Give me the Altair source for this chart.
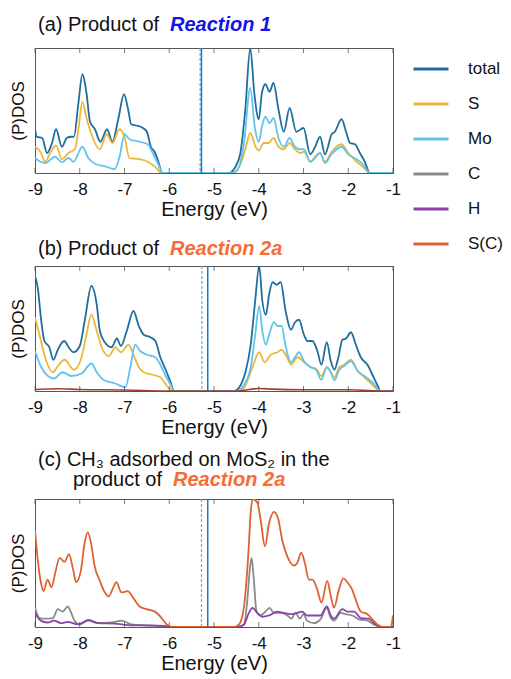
import altair as alt
import pandas as pd

FONT = "Liberation Sans"
ENERGY_TICKS = [-9, -8, -7, -6, -5, -4, -3, -2, -1]
SERIES = ["total", "S", "Mo", "C", "H", "S(C)"]
COLORS = ["#1f6e9e", "#ecb83c", "#62c4ec", "#8a8a8a", "#8b45a8", "#dd6230"]
NEAR_ZERO_COLOR = "#a3402c"

# ---------- panel (a): product of Reaction 1 ----------
A_TOTAL_E = [-9.00, -8.96, -8.84, -8.73, -8.62, -8.53, -8.40, -8.29, -8.20, -8.13, -8.03, -7.94, -7.85, -7.77, -7.66,
             -7.54, -7.39, -7.27, -7.14, -7.01, -6.92, -6.85, -6.74, -6.59, -6.50, -6.41, -6.33, -6.26, -6.15,
             -4.67, -4.52, -4.41, -4.30, -4.19, -4.10, -4.00, -3.93, -3.85, -3.76, -3.67, -3.56, -3.44, -3.31, -3.16,
             -3.00, -2.85, -2.74, -2.63, -2.52, -2.37, -2.30, -2.15, -2.04, -1.96, -1.85, -1.74, -1.63, -1.52, -1.00]
A_TOTAL_V = [0.36, 0.29, 0.28, 0.16, 0.24, 0.35, 0.21, 0.28, 0.29, 0.29, 0.56, 0.79, 0.64, 0.41, 0.35,
             0.25, 0.35, 0.25, 0.43, 0.63, 0.51, 0.39, 0.38, 0.36, 0.33, 0.21, 0.17, 0.11, 0.00,
             0.00, 0.05, 0.16, 0.51, 1.00, 0.64, 0.43, 0.64, 0.71, 0.65, 0.72, 0.51, 0.33, 0.52, 0.33,
             0.36, 0.15, 0.21, 0.29, 0.15, 0.31, 0.33, 0.43, 0.32, 0.24, 0.23, 0.16, 0.09, 0.00, 0.00]
A_S_E = [-9.00, -8.88, -8.77, -8.66, -8.53, -8.40, -8.25, -8.11, -8.03, -7.94, -7.85, -7.74, -7.55, -7.40, -7.27,
         -7.11, -7.00, -6.89, -6.66, -6.48, -6.29, -6.18,
         -4.56, -4.41, -4.30, -4.19, -4.07, -4.00, -3.89, -3.78, -3.67, -3.56, -3.44, -3.31, -3.19, -3.07, -2.99,
         -2.85, -2.74, -2.63, -2.52, -2.37, -2.15, -2.00, -1.81, -1.67, -1.52, -1.00]
A_S_V = [0.21, 0.17, 0.09, 0.16, 0.22, 0.11, 0.16, 0.19, 0.35, 0.57, 0.44, 0.31, 0.19, 0.31, 0.24,
         0.35, 0.29, 0.12, 0.11, 0.09, 0.04, 0.00,
         0.00, 0.07, 0.19, 0.32, 0.21, 0.18, 0.24, 0.24, 0.28, 0.21, 0.19, 0.24, 0.19, 0.16, 0.17,
         0.09, 0.13, 0.16, 0.09, 0.17, 0.23, 0.16, 0.09, 0.05, 0.00, 0.00]
A_MO_E = [-9.00, -8.88, -8.77, -8.55, -8.40, -8.25, -8.14, -7.94, -7.81, -7.63, -7.40, -7.22, -7.11, -7.00, -6.89,
          -6.66, -6.48, -6.37, -6.26, -6.15,
          -4.59, -4.44, -4.33, -4.19, -4.09, -4.00, -3.93, -3.85, -3.76, -3.67, -3.56, -3.44, -3.31, -3.19, -3.07,
          -2.99, -2.85, -2.74, -2.63, -2.52, -2.37, -2.15, -2.00, -1.81, -1.67, -1.52, -1.00]
A_MO_V = [0.12, 0.09, 0.08, 0.13, 0.085, 0.12, 0.09, 0.21, 0.12, 0.07, 0.05, 0.03, 0.13, 0.31, 0.27,
          0.25, 0.23, 0.16, 0.08, 0.00,
          0.00, 0.05, 0.24, 0.68, 0.37, 0.25, 0.37, 0.45, 0.40, 0.44, 0.28, 0.21, 0.28, 0.21, 0.19,
          0.19, 0.09, 0.12, 0.16, 0.08, 0.15, 0.21, 0.15, 0.11, 0.07, 0.00, 0.00]

# ---------- panel (b): product of Reaction 2a ----------
B_TOTAL_E = [-9.00, -8.94, -8.86, -8.79, -8.68, -8.59, -8.49, -8.35, -8.23, -8.14, -8.00, -7.89, -7.74, -7.62, -7.55,
             -7.44, -7.29, -7.17, -7.08, -6.95, -6.80, -6.68, -6.57, -6.42, -6.31, -6.20, -6.08, -5.98, -5.89,
             -4.55, -4.40, -4.29, -4.18, -4.08, -3.99, -3.92, -3.84, -3.77, -3.69, -3.60, -3.51, -3.40, -3.28, -3.19,
             -3.10, -2.99, -2.91, -2.80, -2.69, -2.60, -2.48, -2.39, -2.31, -2.22, -2.13, -2.05, -1.94, -1.83, -1.72,
             -1.57, -1.46, -1.34, -1.28, -1.00]
B_TOTAL_V = [0.92, 0.83, 0.56, 0.40, 0.35, 0.25, 0.33, 0.40, 0.34, 0.31, 0.36, 0.56, 0.84, 0.69, 0.48,
             0.39, 0.35, 0.42, 0.36, 0.48, 0.64, 0.52, 0.45, 0.43, 0.40, 0.27, 0.17, 0.08, 0.00,
             0.00, 0.05, 0.16, 0.37, 0.72, 1.00, 0.72, 0.61, 0.77, 0.87, 0.85, 0.87, 0.64, 0.49, 0.55,
             0.57, 0.45, 0.40, 0.40, 0.32, 0.21, 0.39, 0.24, 0.17, 0.27, 0.41, 0.42, 0.47, 0.37, 0.27,
             0.21, 0.13, 0.04, 0.00, 0.00]
B_S_E = [-9.00, -8.90, -8.75, -8.60, -8.49, -8.34, -8.13, -7.96, -7.85, -7.74, -7.62, -7.51, -7.35, -7.20, -7.08,
         -6.91, -6.80, -6.68, -6.57, -6.38, -6.20, -6.05, -5.92,
         -4.44, -4.29, -4.14, -3.99, -3.87, -3.73, -3.58, -3.49, -3.37, -3.28, -3.13, -2.99, -2.84, -2.72, -2.60,
         -2.48, -2.39, -2.31, -2.20, -2.09, -1.94, -1.79, -1.64, -1.46, -1.31, -1.00]
B_S_V = [0.59, 0.45, 0.24, 0.15, 0.20, 0.25, 0.17, 0.27, 0.45, 0.61, 0.48, 0.35, 0.28, 0.35, 0.31,
         0.37, 0.29, 0.19, 0.15, 0.13, 0.11, 0.04, 0.00,
         0.00, 0.05, 0.19, 0.31, 0.23, 0.29, 0.31, 0.33, 0.27, 0.21, 0.27, 0.23, 0.19, 0.18, 0.12,
         0.19, 0.15, 0.11, 0.19, 0.21, 0.25, 0.16, 0.11, 0.05, 0.00, 0.00]
B_MO_E = [-9.00, -8.86, -8.71, -8.58, -8.38, -8.19, -7.96, -7.74, -7.62, -7.47, -7.21, -6.98, -6.87, -6.76, -6.65,
          -6.50, -6.31, -6.20, -6.08, -5.97, -5.89,
          -4.48, -4.33, -4.18, -4.08, -3.99, -3.92, -3.84, -3.77, -3.66, -3.58, -3.49, -3.40, -3.28, -3.19, -3.10,
          -2.99, -2.84, -2.72, -2.60, -2.48, -2.39, -2.31, -2.20, -2.09, -1.94, -1.79, -1.64, -1.46, -1.28, -1.00]
B_MO_V = [0.32, 0.19, 0.12, 0.10, 0.15, 0.12, 0.14, 0.22, 0.15, 0.09, 0.06, 0.03, 0.19, 0.37, 0.32,
          0.29, 0.27, 0.21, 0.12, 0.05, 0.00,
          0.00, 0.05, 0.19, 0.45, 0.68, 0.48, 0.37, 0.45, 0.55, 0.52, 0.52, 0.36, 0.23, 0.27, 0.31,
          0.24, 0.19, 0.17, 0.09, 0.19, 0.15, 0.085, 0.17, 0.20, 0.24, 0.16, 0.12, 0.07, 0.00, 0.00]
B_SC_E = [-9.00, -8.50, -8.00, -7.00, -6.00, -4.50, -4.00, -3.70, -3.00, -2.00, -1.30, -1.00]
B_SC_V = [0.012, 0.018, 0.012, 0.008, 0.0, 0.0, 0.02, 0.015, 0.01, 0.01, 0.0, 0.0]

# ---------- panel (c): CH3 adsorbed on MoS2 ----------
C_SC_E = [-9.00, -8.94, -8.87, -8.81, -8.72, -8.63, -8.55, -8.45, -8.34, -8.24, -8.15, -8.08, -7.97, -7.89, -7.82,
          -7.74, -7.67, -7.55, -7.44, -7.35, -7.25, -7.18, -7.07, -6.93, -6.81, -6.66, -6.51, -6.32, -6.17, -6.06,
          -5.94,
          -4.55, -4.44, -4.33, -4.24, -4.18, -4.14, -4.03, -3.96, -3.86, -3.77, -3.66, -3.57, -3.47, -3.36, -3.21,
          -3.14, -3.05, -2.97, -2.88, -2.80, -2.69, -2.60, -2.47, -2.39, -2.32, -2.21, -2.11, -2.02, -1.91, -1.84,
          -1.72, -1.57, -1.46, -1.35, -1.24, -1.05, -1.00]
C_SC_V = [0.76, 0.53, 0.35, 0.28, 0.37, 0.31, 0.42, 0.54, 0.51, 0.57, 0.45, 0.35, 0.45, 0.66, 0.74,
          0.64, 0.48, 0.36, 0.27, 0.24, 0.31, 0.35, 0.27, 0.28, 0.23, 0.16, 0.14, 0.12, 0.07, 0.02,
          0.00,
          0.00, 0.02, 0.16, 0.53, 0.89, 1.00, 0.97, 0.84, 0.63, 0.81, 0.90, 0.85, 0.67, 0.55, 0.48,
          0.50, 0.58, 0.50, 0.37, 0.37, 0.29, 0.19, 0.36, 0.24, 0.15, 0.29, 0.38, 0.35, 0.29, 0.22,
          0.12, 0.10, 0.06, 0.02, 0.00, 0.00, 0.09]
C_C_E = [-9.00, -8.90, -8.75, -8.60, -8.49, -8.38, -8.27, -8.19, -8.12, -8.00, -7.82, -7.59, -7.29, -7.07, -6.84,
         -6.54, -6.24, -5.94,
         -4.48, -4.33, -4.26, -4.20, -4.16, -4.11, -4.05, -3.97, -3.85, -3.76, -3.66, -3.51, -3.36, -3.27, -3.18,
         -3.08, -3.00, -2.92, -2.77, -2.62, -2.48, -2.39, -2.32, -2.17, -2.06, -1.91, -1.76, -1.57, -1.43, -1.28,
         -1.00]
C_C_V = [0.15, 0.07, 0.065, 0.07, 0.14, 0.12, 0.16, 0.11, 0.05, 0.02, 0.05, 0.03, 0.035, 0.05, 0.02,
         0.013, 0.008, 0.00,
         0.00, 0.02, 0.19, 0.45, 0.54, 0.37, 0.12, 0.09, 0.12, 0.15, 0.11, 0.11, 0.09, 0.065, 0.11,
         0.065, 0.10, 0.05, 0.03, 0.06, 0.15, 0.07, 0.05, 0.11, 0.10, 0.09, 0.06, 0.05, 0.02, 0.00,
         0.00]
C_H_E = [-9.00, -8.87, -8.72, -8.57, -8.42, -8.27, -8.04, -7.80, -7.59, -7.22, -6.84, -6.47, -6.09, -5.94,
         -4.48, -4.33, -4.22, -4.14, -4.03, -3.92, -3.77, -3.59, -3.44, -3.29, -3.14, -3.03, -2.92, -2.73, -2.62,
         -2.48, -2.39, -2.32, -2.13, -2.02, -1.87, -1.72, -1.54, -1.39, -1.24, -1.00]
C_H_V = [0.11, 0.05, 0.035, 0.05, 0.03, 0.04, 0.02, 0.055, 0.03, 0.026, 0.013, 0.013, 0.008, 0.00,
         0.00, 0.02, 0.11, 0.15, 0.11, 0.08, 0.09, 0.12, 0.11, 0.10, 0.11, 0.12, 0.09, 0.09, 0.09,
         0.16, 0.09, 0.065, 0.14, 0.12, 0.12, 0.07, 0.065, 0.02, 0.00, 0.00]

# Fermi levels (dashed / solid) for panels a, b, c
FERMI_DASHED = [-5.31, -5.27, -5.28]
FERMI_SOLID = [-5.28, -5.14, -5.14]

PLOT_W = 358


def frame(pairs):
    rows = []
    for name, es, vs in pairs:
        for i, (e, v) in enumerate(zip(es, vs)):
            rows.append({"E": e, "v": v, "series": name, "i": i})
    return pd.DataFrame(rows)


def title_layer(parts):
    layers = []
    for text, x, y, size, color, bold in parts:
        layers.append(
            alt.Chart(pd.DataFrame({"k": [0]})).mark_text(
                text=text, align="left", baseline="alphabetic", font=FONT, fontSize=size,
                color=color, fontWeight="bold" if bold else "normal",
                fontStyle="italic" if bold else "normal",
            ).encode(x=alt.value(x), y=alt.value(y))
        )
    return layers


def panel(pairs, dashed, solid, height, title_parts, show_legend, near_zero=None):
    df = frame(pairs)
    xenc = alt.X("E:Q", scale=alt.Scale(domain=[-9, -1], nice=False, zero=False),
                 axis=alt.Axis(values=ENERGY_TICKS, title="Energy (eV)", ticks=False, domain=False,
                               grid=False, labelPadding=8, titlePadding=2, labelFlush=False,
                               labelFontSize=17, titleFontSize=20,
                               labelExpr="'' + datum.value"))
    yenc = alt.Y("v:Q", scale=alt.Scale(domain=[0, 1], nice=False),
                 axis=alt.Axis(title="(P)DOS", labels=False, ticks=False, domain=False, grid=False,
                               titlePadding=8, titleFontSize=17))
    color = alt.Color("series:N", scale=alt.Scale(domain=SERIES, range=COLORS), legend=None)
    if show_legend:
        color = alt.Color("series:N", scale=alt.Scale(domain=SERIES, range=COLORS),
                          legend=alt.Legend(title=None, orient="none", legendX=377, legendY=2,
                                            symbolType="stroke", symbolSize=1225, symbolStrokeWidth=3,
                                            labelFontSize=17, labelFont=FONT, labelOffset=18,
                                            rowPadding=8))
    layers = []
    if near_zero is not None:
        nz = frame([near_zero])
        layers.append(alt.Chart(nz).mark_line(interpolate="monotone", strokeWidth=1.6, clip=True,
                                              color=NEAR_ZERO_COLOR).encode(
            x=alt.X("E:Q"), y=alt.Y("v:Q"), order="i:Q"))
    lines = alt.Chart(df).mark_line(interpolate="monotone", strokeWidth=1.8, clip=True).encode(
        x=xenc, y=yenc, color=color, order="i:Q")
    ticks_df = pd.DataFrame({"E": ENERGY_TICKS})
    tick_bot = alt.Chart(ticks_df).mark_tick(size=5, thickness=1, color="#444", orient="vertical").encode(
        x=alt.X("E:Q"), y=alt.value(height - 2.5))
    tick_top = alt.Chart(ticks_df).mark_tick(size=5, thickness=1, color="#444", orient="vertical").encode(
        x=alt.X("E:Q"), y=alt.value(2.5))
    r_dash = alt.Chart(pd.DataFrame({"E": [dashed]})).mark_rule(
        color="#5aaee0", strokeWidth=1.2, strokeDash=[3, 2]).encode(x=alt.X("E:Q"))
    r_solid = alt.Chart(pd.DataFrame({"E": [solid]})).mark_rule(
        color="#1a78c2", strokeWidth=1.5).encode(x=alt.X("E:Q"))
    layers = [lines] + layers + [r_dash, r_solid, tick_bot, tick_top] + title_layer(title_parts)
    return alt.layer(*layers).properties(width=PLOT_W, height=height)


BLACK = "#111111"
BLUE = "#1414e6"
ORANGE = "#f96a35"

pa = panel([("total", A_TOTAL_E, A_TOTAL_V), ("S", A_S_E, A_S_V), ("Mo", A_MO_E, A_MO_V)],
           FERMI_DASHED[0], FERMI_SOLID[0], 125,
           [("(a) Product of", 3, -17, 20, BLACK, False), ("Reaction 1", 135, -17, 20, BLUE, True)], True)
pb = panel([("total", B_TOTAL_E, B_TOTAL_V), ("S", B_S_E, B_S_V), ("Mo", B_MO_E, B_MO_V)],
           FERMI_DASHED[1], FERMI_SOLID[1], 125,
           [("(b) Product of", 3, -11, 20, BLACK, False), ("Reaction 2a", 135, -11, 20, ORANGE, True)], False,
           near_zero=("S(C)", B_SC_E, B_SC_V))
pc = panel([("C", C_C_E, C_C_V), ("H", C_H_E, C_H_V), ("S(C)", C_SC_E, C_SC_V)],
           FERMI_DASHED[2], FERMI_SOLID[2], 128,
           [("(c) CH\u2083 adsorbed on MoS\u2082 in the", 3, -33, 20, BLACK, False),
            ("product of", 38, -13, 20, BLACK, False), ("Reaction 2a", 138, -13, 20, ORANGE, True)], False)

top_pair = alt.vconcat(pa, pb, spacing=18)
chart = alt.vconcat(top_pair, pc, spacing=11).properties(
    padding={"left": 0, "top": 6, "right": 0, "bottom": 0}
).configure_view(stroke="#555555", strokeWidth=1).configure_axis(
    labelFont=FONT, titleFont=FONT, labelFontSize=17, titleFontSize=20, labelColor="#111111",
    titleColor="#111111", titleFontWeight="normal"
).configure_legend(labelColor="#111111")

chart.save("out.html", embed_options={"renderer": "svg", "actions": False})
